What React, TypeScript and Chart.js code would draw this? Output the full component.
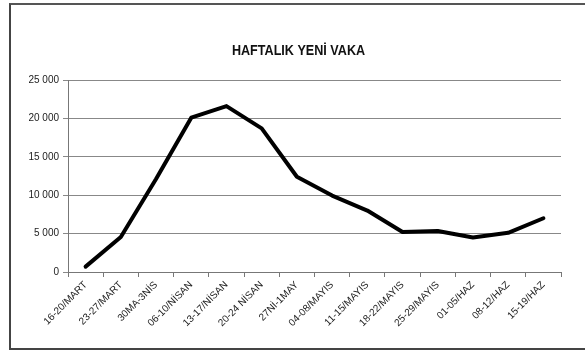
import React, { useEffect, useRef } from "react";
import { Chart, registerables } from "chart.js";

Chart.register(...registerables);

// Weekly new cases (HAFTALIK YENİ VAKA)
const weeks: string[] = [
  "16-20/MART",
  "23-27/MART",
  "30MA-3NİS",
  "06-10/NİSAN",
  "13-17/NİSAN",
  "20-24 NİSAN",
  "27Nİ-1MAY",
  "04-08/MAYIS",
  "11-15/MAYIS",
  "18-22/MAYIS",
  "25-29/MAYIS",
  "01-05/HAZ",
  "08-12/HAZ",
  "15-19/HAZ",
];

const newCases: number[] = [
  700, 4550, 12100, 20100, 21600, 18700, 12400, 9950, 8000, 5200, 5350, 4500, 5100, 7000,
];

const yTicks: number[] = [0, 5000, 10000, 15000, 20000, 25000];

const TITLE = "HAFTALIK YENİ VAKA";
const FONT = "'Liberation Sans', Arial, sans-serif";

const formatThousands = (v: number) =>
  String(v).replace(/\B(?=(\d{3})+(?!\d))/g, " ");

// Title drawn in a condensed bold face (horizontally squeezed glyphs)
const condensedTitle = {
  id: "condensedTitle",
  afterDraw(chart: any) {
    const { ctx, width } = chart;
    ctx.save();
    ctx.font = `bold 15px ${FONT}`;
    ctx.fillStyle = "#111111";
    ctx.textAlign = "center";
    ctx.textBaseline = "middle";
    const squeeze = 0.84;
    const cx = width / 2 + 6;
    ctx.translate(cx, 51);
    ctx.scale(squeeze, 1);
    ctx.fillText(TITLE, 0, 0);
    ctx.restore();
  },
};

export default function App() {
  const canvasRef = useRef<HTMLCanvasElement | null>(null);

  useEffect(() => {
    const canvas = canvasRef.current;
    if (!canvas) return;
    const chart = new Chart(canvas, {
      type: "line",
      data: {
        labels: weeks,
        datasets: [
          {
            label: TITLE,
            data: newCases,
            borderColor: "#000000",
            borderWidth: 4,
            pointRadius: 0,
            tension: 0,
            fill: false,
            borderCapStyle: "round",
            borderJoinStyle: "round",
          },
        ],
      },
      options: {
        responsive: false,
        animation: false,
        devicePixelRatio: 1,
        layout: { padding: { left: 0, right: 24, top: 80, bottom: 0 } },
        plugins: {
          legend: { display: false },
          tooltip: { enabled: false },
          title: { display: false },
        },
        scales: {
          x: {
            type: "category",
            offset: true,
            grid: {
              offset: true,
              drawOnChartArea: false,
              drawTicks: true,
              tickLength: 5,
              color: "#777777",
            },
            border: { color: "#777777", width: 1 },
            ticks: {
              autoSkip: false,
              minRotation: 45,
              maxRotation: 45,
              padding: 2,
              color: "#222222",
              font: { family: FONT, size: 10 },
            },
            afterFit: (scale: any) => {
              scale.height = 78;
            },
          },
          y: {
            min: 0,
            max: 25000,
            afterBuildTicks: (scale: any) => {
              scale.ticks = yTicks.map((v) => ({ value: v }));
            },
            grid: {
              color: "#888888",
              lineWidth: 1,
              tickLength: 5,
            },
            border: { color: "#777777", width: 1 },
            ticks: {
              padding: 4,
              color: "#222222",
              font: { family: FONT, size: 10 },
              callback: (v: any) => formatThousands(Number(v)),
            },
            afterFit: (scale: any) => {
              scale.width = 68;
            },
          },
        },
      },
      plugins: [condensedTitle],
    });
    return () => chart.destroy();
  }, []);

  return (
    <div
      style={{
        position: "fixed",
        left: 0,
        top: 0,
        width: 585,
        height: 350,
        background: "#ffffff",
        overflow: "hidden",
      }}
    >
      <canvas
        ref={canvasRef}
        width={585}
        height={350}
        style={{ position: "absolute", left: 0, top: 0, width: 585, height: 350 }}
      />
      <div
        style={{
          position: "absolute",
          left: 9,
          top: 3,
          width: 576,
          height: 347,
          boxSizing: "border-box",
          borderTop: "2px solid #555555",
          borderLeft: "2px solid #444444",
          borderBottom: "2px solid #444444",
          pointerEvents: "none",
        }}
      />
    </div>
  );
}
